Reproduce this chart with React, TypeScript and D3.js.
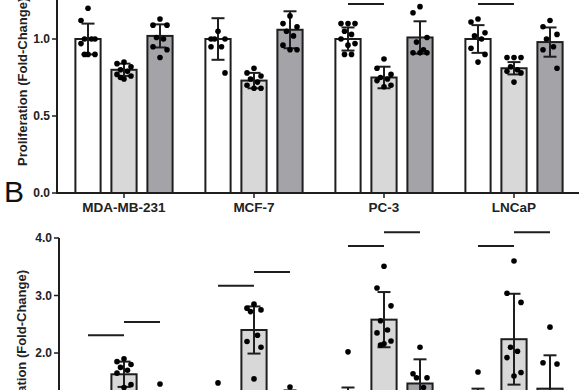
import React from "react";
import * as d3 from "d3";

// ---------- data ----------
const cellLines = ["MDA-MB-231", "MCF-7", "PC-3", "LNCaP"];
const treatments = ["Control", "Treatment 1", "Treatment 2"];

// Panel A: Proliferation (fold-change)
const profMean = {
  "Control": [1.0, 1.0, 1.0, 1.0],
  "Treatment 1": [0.8, 0.73, 0.75, 0.81],
  "Treatment 2": [1.02, 1.06, 1.01, 0.98],
};
const profSD = {
  "Control": [0.1, 0.135, 0.075, 0.09],
  "Treatment 1": [0.04, 0.05, 0.07, 0.04],
  "Treatment 2": [0.075, 0.12, 0.105, 0.095],
};
const profPoints = {
  "Control": [
    [1.2, 1.12, 1.0, 1.0, 1.0, 0.97, 0.9, 0.9, 0.9],
    [1.05, 1.0, 1.0, 1.0, 0.95, 0.95, 0.78],
    [1.1, 1.1, 1.1, 1.05, 1.03, 1.0, 0.97, 0.96, 0.9, 0.9],
    [1.13, 1.11, 1.04, 1.02, 1.0, 0.94, 0.9, 0.85],
  ],
  "Treatment 1": [
    [0.85, 0.84, 0.82, 0.8, 0.79, 0.77, 0.76, 0.74, 0.75],
    [0.81, 0.78, 0.76, 0.74, 0.72, 0.7, 0.68, 0.68],
    [0.87, 0.81, 0.77, 0.75, 0.74, 0.73, 0.7, 0.69],
    [0.88, 0.88, 0.88, 0.82, 0.8, 0.79, 0.78, 0.72],
  ],
  "Treatment 2": [
    [1.13, 1.09, 1.09, 1.01, 1.0, 0.95, 0.93, 0.88],
    [1.15, 1.1, 1.08, 1.05, 1.02, 0.96, 0.93, 0.93],
    [1.21, 1.17, 1.01, 0.98, 0.93, 0.91, 0.91, 0.91],
    [1.12, 1.08, 1.03, 1.0, 0.95, 0.93, 0.81],
  ],
};
const profTicks = [0, 0.5, 1.0];
// significance bars: [cell line index, from treatment, to treatment, level]
const profSig = [
  [2, 0, 1, 1.227],
  [3, 0, 1, 1.227],
];

// Panel B: Migration (fold-change)
const migMean = {
  "Control": [1.0, 1.0, 1.0, 1.0],
  "Treatment 1": [1.63, 2.4, 2.58, 2.24],
  "Treatment 2": [1.05, 1.05, 1.47, 1.38],
};
const migSD = {
  "Control": [0.3, 0.3, 0.4, 0.38],
  "Treatment 1": [0.22, 0.41, 0.48, 0.79],
  "Treatment 2": [0.28, 0.3, 0.42, 0.58],
};
const migPoints = {
  "Control": [
    [1.3, 1.2, 1.0, 0.9, 0.8, 0.8, 0.9, 1.1],
    [1.48, 1.2, 1.0, 0.9, 0.8, 0.75],
    [2.02, 1.2, 1.0, 0.85, 0.8, 0.7],
    [1.67, 1.2, 1.0, 0.8, 0.7],
  ],
  "Treatment 1": [
    [1.9, 1.85, 1.8, 1.75, 1.7, 1.65, 1.45, 1.4],
    [2.85, 2.78, 2.75, 2.72, 2.31, 2.2, 2.1, 1.55],
    [3.51, 3.13, 2.82, 2.56, 2.4, 2.35, 2.21, 2.16, 2.14],
    [3.6, 3.04, 2.88, 2.1, 2.03, 1.92, 1.66, 1.6],
  ],
  "Treatment 2": [
    [1.46, 1.2, 1.1, 1.0, 0.9, 0.85],
    [1.41, 1.2, 1.0, 0.9, 0.85],
    [2.1, 1.64, 1.57, 1.57, 1.4, 1.3],
    [2.45, 1.83, 1.81, 1.2, 1.0],
  ],
};
const migTicks = [2.0, 3.0, 4.0];
const migSig = [
  [0, 0, 1, 2.31],
  [0, 1, 2, 2.54],
  [1, 0, 1, 3.17],
  [1, 1, 2, 3.41],
  [2, 0, 1, 3.86],
  [2, 1, 2, 4.1],
  [3, 0, 1, 3.86],
  [3, 1, 2, 4.1],
];

// ---------- styling ----------
const W = 585;
const H = 390;
const FONT = "'Liberation Sans', Arial, Helvetica, sans-serif";
const fills = { "Control": "#ffffff", "Treatment 1": "#d8d8d8", "Treatment 2": "#a4a4a8" };
const INK = "#1e1e1e";
const jitter = [0, -7, 7, -3.5, 3.5, -7, 7, 0, -3.5, 3.5];

const xGroup = d3.scaleBand().domain(cellLines).range([59, 579]).paddingInner(0).paddingOuter(0);
const xInner = d3.scaleBand().domain(treatments).range([-54, 54]).paddingInner(0.3).paddingOuter(0.15);

const yTop = d3.scaleLinear().domain([0, 1]).range([193, 39]);
const yBot = d3.scaleLinear().domain([0, 4]).range([468, 238]);

function center(ci: number, t: string) {
  const g = xGroup(cellLines[ci])! + xGroup.bandwidth() / 2;
  return g + xInner(t)! + xInner.bandwidth() / 2;
}

function Panel({ y, mean, sd, points, sig }: any) {
  const bw = xInner.bandwidth();
  const y0 = y(0);
  return (
    <g>
      {treatments.map((t) =>
        cellLines.map((c, ci) => {
          const cx = center(ci, t);
          const m = mean[t][ci];
          const s = sd[t][ci];
          return (
            <g key={t + c}>
              <rect x={cx - bw / 2} y={y(m)} width={bw} height={y0 - y(m)} fill={(fills as any)[t]} stroke={INK} strokeWidth={2} />
              <line x1={cx} x2={cx} y1={y(m + s)} y2={y(m - s)} stroke={INK} strokeWidth={2} />
              <line x1={cx - 6.5} x2={cx + 6.5} y1={y(m + s)} y2={y(m + s)} stroke={INK} strokeWidth={2} />
              <line x1={cx - 6.5} x2={cx + 6.5} y1={y(m - s)} y2={y(m - s)} stroke={INK} strokeWidth={2} />
              {points[t][ci].map((v: number, i: number) => (
                <circle key={i} cx={cx + jitter[i % jitter.length]} cy={y(v)} r={2.8} fill="#000" />
              ))}
            </g>
          );
        })
      )}
      {sig.map((s: number[], i: number) => (
        <line key={"s" + i} x1={center(s[0], treatments[s[1]])} x2={center(s[0], treatments[s[2]])}
          y1={y(s[3])} y2={y(s[3])} stroke={INK} strokeWidth={2} />
      ))}
    </g>
  );
}

export default function App() {
  return (
    <div style={{ position: "absolute", left: 0, top: 0 }}>
      <svg width={W} height={H} viewBox={`0 0 ${W} ${H}`} style={{ display: "block", background: "#fff" }} fontFamily={FONT}>
        <rect x={0} y={0} width={W} height={H} fill="#fff" />
        {/* ----- Panel A ----- */}
        <Panel y={yTop} mean={profMean} sd={profSD} points={profPoints} sig={profSig} />
        <line x1={57} x2={57} y1={0} y2={yTop(0) + 1} stroke={INK} strokeWidth={2} />
        <line x1={56} x2={579} y1={yTop(0)} y2={yTop(0)} stroke={INK} strokeWidth={2} />
        {profTicks.map((t) => (
          <g key={t}>
            <line x1={52} x2={57} y1={yTop(t)} y2={yTop(t)} stroke={INK} strokeWidth={1.5} />
            <text x={50} y={yTop(t)} dy="0.36em" textAnchor="end" fontSize={12} fontWeight="bold" fill="#222">{d3.format(".1f")(t)}</text>
          </g>
        ))}
        {cellLines.map((c) => {
          const cx = xGroup(c)! + xGroup.bandwidth() / 2;
          return (
            <g key={c}>
              <line x1={cx} x2={cx} y1={yTop(0)} y2={yTop(0) + 5} stroke={INK} strokeWidth={1.5} />
              <text x={cx} y={212} textAnchor="middle" fontSize={13.5} fontWeight="bold" fill="#222">{c}</text>
            </g>
          );
        })}
        <text transform="translate(27,166) rotate(-90)" textAnchor="start" fontSize={13} fontWeight="bold" fill="#222">Proliferation (Fold-Change)</text>
        <text x={4} y={202} fontSize={30} fill="#111">B</text>

        {/* ----- Panel B ----- */}
        <Panel y={yBot} mean={migMean} sd={migSD} points={migPoints} sig={migSig} />
        <line x1={59} x2={59} y1={yBot(4)} y2={H + 2} stroke={INK} strokeWidth={2} />
        {migTicks.map((t) => (
          <g key={t}>
            <line x1={54} x2={59} y1={yBot(t)} y2={yBot(t)} stroke={INK} strokeWidth={1.5} />
            <text x={52} y={yBot(t)} dy="0.36em" textAnchor="end" fontSize={12} fontWeight="bold" fill="#222">{d3.format(".1f")(t)}</text>
          </g>
        ))}
        <text transform="translate(25.5,270) rotate(-90)" textAnchor="end" fontSize={13} fontWeight="bold" fill="#222">Migration (Fold-Change)</text>
      </svg>
    </div>
  );
}
